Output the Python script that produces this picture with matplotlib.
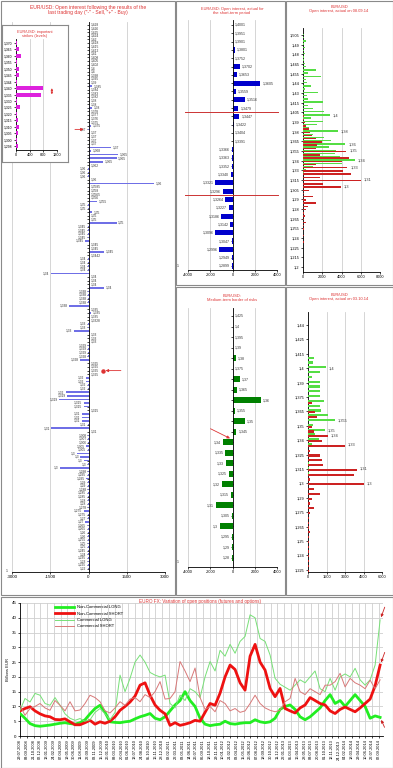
import numpy as np
import pandas as pd
import matplotlib
matplotlib.use('Agg')
import matplotlib.pyplot as plt
from matplotlib.patches import Rectangle

plt.rcParams['font.family'] = ['Liberation Sans', 'DejaVu Sans']
plt.rcParams['axes.linewidth'] = 0.6
plt.rcParams['xtick.major.width'] = 0.5
plt.rcParams['ytick.major.width'] = 0.5
plt.rcParams['xtick.major.size'] = 1.5
plt.rcParams['ytick.major.size'] = 1.5
plt.rcParams['xtick.major.pad'] = 1
plt.rcParams['ytick.major.pad'] = 1

# ---------------- data ----------------
# main panel: open interest after the last trading day, one row per strike/expiry
main_strikes = [
    "1,428", "1,426", "1,425", "1,424", "1,42", "1,418", "1,415", "1,412", "1,41", "1,408",
    "1,405", "1,402", "1,4", "1,4", "1,398", "1,395", "1,39", "1,385", "1,384", "1,383",
    "1,382", "1,38", "1,38", "1,38", "1,378", "1,377", "1,376", "1,375", "1,375", "1,37",
    "1,37", "1,37", "1,37", "1,37", "1,37", "1,368", "1,365", "1,365", "1,365", "1,362",
    "1,36", "1,36", "1,36", "1,36", "1,36", "1,3585", "1,358", "1,3565", "1,356", "1,355",
    "1,35", "1,35", "1,35", "1,35", "1,35", "1,35", "1,345", "1,345", "1,345", "1,345",
    "1,345", "1,345", "1,345", "1,345", "1,3442", "1,34", "1,34", "1,34", "1,34", "1,34",
    "1,34", "1,34", "1,34", "1,34", "1,338", "1,338", "1,338", "1,338", "1,338", "1,335",
    "1,335", "1,335", "1,3328", "1,33", "1,33", "1,33", "1,33", "1,33", "1,33", "1,329",
    "1,329", "1,329", "1,328", "1,328", "1,325", "1,325", "1,325", "1,325", "1,32", "1,32",
    "1,32", "1,32", "1,32", "1,319", "1,319", "1,315", "1,315", "1,315", "1,31", "1,31",
    "1,31", "1,31", "1,31", "1,31", "1,308", "1,307", "1,306", "1,305", "1,305", "1,3",
    "1,3", "1,3", "1,3", "1,3", "1,298", "1,295", "1,295", "1,29", "1,29", "1,288",
    "1,285", "1,285", "1,28", "1,28", "1,278", "1,275", "1,275", "1,27", "1,27", "1,265",
    "1,265", "1,26", "1,26", "1,255", "1,25", "1,25", "1,245", "1,24", "1,235", "1,23",
    "1,225", "1,22",
]
main_oi = [
    20, 20, 20, 20, 20, 20, 20, 20, 20, 20,
    20, 20, 20, 20, 20, 20, 20, 130, 20, 20,
    20, 20, 20, 130, 20, 20, 20, 20, 100, -30,
    20, 20, 20, 20, 900, 100, 1160, 1100, 580, 20,
    -30, -30, -30, 20, 2580, 20, 20, 20, 20, 320,
    -30, -30, 150, 20, 20, 1100, -30, -30, -30, -30,
    -130, 20, 20, 600, 20, -30, -30, -30, -30, -1480,
    20, 20, 20, 600, -30, -30, -30, -30, -770, 20,
    100, 20, 20, -30, -30, -580, 20, 20, 20, -30,
    -30, -30, -30, -320, 20, 20, 20, 20, -100, -100,
    -30, -30, -900, -840, -1160, -190, -190, 20, -260, -260,
    -260, -30, -1460, 20, -30, -30, -30, -100, -30, -450,
    -320, -190, -30, -1120, -30, -30, -100, -30, -30, -30,
    -30, -30, -30, -30, -30, -190, -30, -30, -130, -30,
    -30, -30, -30, -30, -30, -30, -30, -30, -30, -30,
    -30, -30,
]
main_arrow_rows = [29, 96]

# inset: important strikes
key_strikes = ["1,370", "1,365", "1,360", "1,355", "1,350", "1,345", "1,344", "1,340", "1,335",
               "1,330", "1,325", "1,320", "1,315", "1,310", "1,305", "1,300", "1,298"]
key_oi = [20, 90, 140, 30, 100, 100, 20, 780, 720, 20, 120, 40, 70, 100, 70, 20, 70]

# short-term period
short_strikes = ["1,4001", "1,3951", "1,3901", "1,3801", "1,3752", "1,3702", "1,3653", "1,3605",
                 "1,3559", "1,3516", "1,3479", "1,3447", "1,3422", "1,3404", "1,3391", "1,3366",
                 "1,3363", "1,3352", "1,3340", "1,3321", "1,3296", "1,3264", "1,3227", "1,3186",
                 "1,3142", "1,3096", "1,3047", "1,2996", "1,2949", "1,2899"]
short_oi = [60, 40, 40, 180, 60, 680, 380, 2500, 300, 1120, 530, 620, 150, 40, 30,
            -30, -30, -30, -150, -1530, -850, -650, -350, -1000, -200, -1530, -60, -1180, -50, -50]
short_border_after = ["1,3479", "1,3296"]

# medium-term border of risks
mid_strikes = ["1,425", "1,4", "1,395", "1,39", "1,38", "1,375", "1,37", "1,365", "1,36", "1,355",
               "1,35", "1,345", "1,34", "1,335", "1,33", "1,325", "1,32", "1,315", "1,31", "1,305",
               "1,3", "1,295", "1,29", "1,28"]
mid_oi = [30, 30, 30, 30, 290, 30, 680, 380, 2530, 240, 1120, 350, -850, -650, -590, -350,
          -940, -150, -1470, -30, -1150, -30, -30, -30]
mid_arrow_row = 12

# open interest on 08.09.14 (calls green / puts red)
sep_ticks = ["1,505", "1,49", "1,48", "1,465", "1,455", "1,44", "1,43", "1,415", "1,405", "1,39",
             "1,38", "1,365", "1,355", "1,34", "1,33", "1,315", "1,305", "1,29", "1,28", "1,265",
             "1,255", "1,24", "1,225", "1,215", "1,2"]
sep_calls = [150, 100, 300, 100, 200, 100, 200, 100, 150, 200,
             300, 1400, 500, 1900, 300, 400, 800, 200, 1600, 400,
             500, 2100, 500, 1000, 2200, 2800, 800, 2100, 1500, 600,
             3600, 1000, 2200, 2900, 4400, 2700, 3400, 3300, 3800, 5400,
             4000, 1000, 300, 100, 0, 0, 0, 0, 0, 0,
             0, 0, 0, 0, 0, 0, 0, 0, 0, 0,
             0, 0, 0, 0, 0, 0, 0, 0, 0, 0,
             0, 0, 0]
sep_puts = [0, 0, 0, 0, 0, 0, 0, 0, 0, 0,
            0, 0, 0, 0, 0, 0, 0, 0, 0, 0,
            0, 0, 0, 0, 0, 100, 100, 200, 300, 600,
            700, 900, 1300, 2000, 1500, 1400, 4500, 1800, 4800, 4000,
            1400, 4600, 4200, 5000, 1800, 6000, 2100, 3900, 600, 100,
            1000, 300, 1300, 500, 300, 100, 200, 100, 300, 100,
            100, 50, 100, 50, 80, 50, 50, 50, 50, 50,
            50, 50, 50]
sep_note_rows = [25, 30, 34, 36, 39, 41, 45, 47]
sep_note_text = ["1,4", "1,38", "1,36", "1,35", "1,34", "1,33", "1,31", "1,3"]

# open interest on 03.10.14
oct_ticks = ["1,44", "1,425", "1,415", "1,4", "1,39", "1,375", "1,365", "1,35", "1,34", "1,325",
             "1,315", "1,3", "1,29", "1,275", "1,265", "1,25", "1,24", "1,225"]
oct_calls = [0, 0, 0, 0, 0, 0, 0, 470, 420, 1420,
             950, 300, 1000, 1000, 1000, 1000, 1270, 1000, 1080, 1600,
             2200, 400, 1350, 600, 860, 300, 0, 0, 0, 50,
             100, 100, 0, 0, 0, 0, 0, 0, 0, 0,
             0, 0, 0, 0, 0, 0, 0, 0, 0, 0,
             0, 0]
oct_puts = [0, 0, 0, 0, 0, 0, 0, 0, 0, 0,
            0, 0, 0, 0, 0, 0, 300, 0, 600, 700,
            0, 300, 460, 1600, 1100, 2970, 200, 1000, 1130, 1200,
            3970, 3700, 200, 4540, 460, 1000, 300, 200, 460, 200,
            100, 100, 100, 200, 50, 50, 50, 50, 50, 50,
            50, 50]
oct_note_rows = [9, 20, 22, 23, 25, 30, 33]
oct_note_text = ["1,4", "1,355", "1,35", "1,34", "1,33", "1,31", "1,3"]

# EURO FX positions, billions EUR (roughly monthly readings, Jul 2008 - Sep 2014)
nc_long = [7.6, 6.0, 4.2, 3.5, 3.3, 3.5, 3.7, 4.0, 4.3, 4.5,
           4.2, 4.0, 4.5, 5.5, 7.5, 9.3, 10.4, 8.0, 4.8, 4.6,
           4.5, 4.8, 5.0, 5.8, 6.5, 7.0, 7.6, 6.0, 5.5, 6.5,
           8.5, 10.5, 12.0, 15.0, 12.0, 10.0, 6.0, 4.0, 3.5, 3.8,
           4.0, 5.0, 4.2, 4.0, 4.3, 4.5, 4.5, 5.5, 4.8, 4.5,
           4.8, 6.0, 9.0, 10.0, 10.5, 9.0, 6.5, 5.5, 6.5, 8.0,
           9.5, 12.0, 14.0, 11.0, 12.0, 10.0, 12.0, 14.0, 12.0, 10.0,
           6.0, 6.8, 6.3]
nc_short = [8.5, 9.3, 9.9, 8.5, 7.5, 6.8, 6.5, 5.6, 5.5, 5.8,
            4.8, 3.8, 3.8, 4.5, 5.3, 4.0, 4.8, 4.3, 5.0, 6.5,
            8.7, 10.0, 11.5, 13.5, 17.2, 18.0, 13.8, 10.5, 8.7, 7.5,
            3.6, 4.5, 3.6, 4.0, 4.5, 5.3, 5.0, 8.0, 11.0, 10.4,
            14.5, 20.0, 24.0, 22.5, 18.0, 15.5, 27.0, 31.0, 25.0, 22.3,
            16.1, 13.3, 16.1, 9.3, 8.5, 7.8, 9.5, 10.5, 13.0, 12.0,
            11.0, 10.5, 8.5, 7.6, 9.0, 9.8, 9.0, 8.2, 9.5, 11.0,
            12.5, 17.0, 24.0]
c_long = [8.7, 12.7, 11.5, 14.4, 13.8, 11.0, 10.4, 13.0, 10.4, 7.5,
          6.0, 5.3, 5.9, 5.0, 5.5, 8.0, 9.3, 7.5, 5.5, 8.0,
          20.6, 15.0, 19.5, 25.0, 27.4, 25.0, 21.5, 20.6, 20.0, 20.6,
          11.0, 9.5, 13.8, 12.0, 16.0, 15.0, 13.0, 20.0, 25.2, 22.0,
          29.0, 27.0, 31.0, 28.0, 32.0, 33.7, 41.0, 40.0, 33.0, 32.0,
          27.4, 19.5, 17.5, 16.5, 15.5, 17.2, 19.0, 18.0, 20.0, 22.0,
          16.0, 15.0, 19.5, 15.5, 20.0, 21.0, 20.0, 22.9, 19.0, 17.2,
          19.0, 24.0, 39.3]
c_short = [10.4, 7.0, 9.3, 10.0, 11.0, 9.5, 8.7, 12.0, 10.4, 8.5,
           11.6, 8.5, 8.8, 11.0, 13.8, 13.0, 11.6, 8.5, 7.8, 9.5,
           11.6, 10.4, 12.5, 13.0, 11.6, 14.0, 13.0, 15.0, 18.4, 12.5,
           12.7, 15.0, 25.2, 22.0, 18.4, 23.0, 13.0, 9.0, 10.0, 8.2,
           12.0, 11.0, 8.5, 9.3, 8.0, 8.5, 11.0, 13.8, 11.0, 9.5,
           8.7, 8.2, 8.7, 11.6, 12.7, 19.5, 15.0, 14.0, 16.0, 15.0,
           14.0, 17.2, 17.2, 18.4, 21.2, 16.6, 19.5, 18.0, 17.2, 16.0,
           18.9, 16.0, 19.0]
series_dates = pd.date_range("2008-07-29", "2014-09-09", periods=len(nc_long))
tick_dates = pd.date_range("2008-07-29", periods=54, freq="42D")

# ---------------- layout helpers ----------------
W, H = 393, 768
RED = '#dd3333'
GRID = '#cfcfcf'
TXT = '#333333'

fig = plt.figure(figsize=(W / 100, H / 100), dpi=100)


def px_axes(x0, y0, x1, y1):
    return fig.add_axes([x0 / W, 1 - y1 / H, (x1 - x0) / W, (y1 - y0) / H])


def row_limits(top_px, bottom_px, first_px, step_px):
    return ((bottom_px - first_px) / step_px, (top_px - first_px) / step_px)


def ftext(x, y, s, **kw):
    fig.text(x / W, 1 - y / H, s, **kw)


def frame(x0, y0, x1, y1):
    fig.patches.append(Rectangle((x0 / W, 1 - y1 / H), (x1 - x0) / W, (y1 - y0) / H,
                                 transform=fig.transFigure, fill=False,
                                 ec='#8a8a8a', lw=0.8))


def signed_bars(ax, labels, values, color, height, fs, pad):
    rows = np.arange(len(values))
    ax.barh(rows, values, height=height, color=color, zorder=3)
    for r, lab, v in zip(rows, labels, values):
        if v >= 0:
            ax.text(v + pad, r, lab, ha='left', va='center', fontsize=fs, color=TXT)
        else:
            ax.text(v - pad, r, lab, ha='right', va='center', fontsize=fs, color=TXT)
    ax.spines['left'].set_position(('data', 0))
    ax.spines['left'].set_zorder(4)
    ax.set_yticks(rows)
    ax.set_yticklabels([])
    ax.tick_params(axis='y', length=1.2, direction='out')
    for s in ('top', 'right'):
        ax.spines[s].set_visible(False)
    ax.grid(axis='x', color=GRID, lw=0.6)
    ax.set_axisbelow(True)


# ---------------- main panel ----------------
ax = px_axes(12, 22, 165, 572)
signed_bars(ax, main_strikes, main_oi, '#6f6fe6', 0.45, 2.3, 60)
ax.set_xlim(-3000, 3000)
ax.set_ylim(*row_limits(22, 572, 25, 3.6))
ax.set_xticks([-3000, -1500, 0, 1500, 3000])
ax.set_xticklabels(['-3000', '-1500', '0', '1500', '3000'], fontsize=3.2)
ax.annotate('', xy=(-80, main_arrow_rows[0]), xytext=(-640, main_arrow_rows[0]),
            arrowprops=dict(arrowstyle='-|>', color=RED, lw=0.6, mutation_scale=4))
ax.annotate('', xy=(560, main_arrow_rows[1]), xytext=(1380, main_arrow_rows[1]),
            arrowprops=dict(arrowstyle='-|>', color=RED, lw=0.6, mutation_scale=4))
ax.plot(560, main_arrow_rows[1], 'o', color=RED, ms=2.2, zorder=5)
ftext(7, 571, '1', fontsize=2.6, ha='center', va='center', color=TXT)
ftext(88, 10, 'EUR/USD: Open interest following the results of the\n'
      'last trading day ("-" - Sell, "+" - Buy)',
      fontsize=3.6, color=RED, ha='center', va='center', linespacing=1.2)

# inset with important strikes
fr = px_axes(2, 25, 68, 162)
fr.set_xticks([])
fr.set_yticks([])
for s in fr.spines.values():
    s.set_color('#8a8a8a')
    s.set_linewidth(0.8)
ins = px_axes(16, 39, 57, 150)
rows = np.arange(len(key_oi))
ins.barh(rows, key_oi, height=0.62, color='#dd22dd', zorder=3)
ins.set_xlim(0, 1200)
ins.set_ylim(*row_limits(39, 150, 43, 6.44))
ins.set_yticks(rows)
ins.set_yticklabels(key_strikes, fontsize=2.4)
ins.set_xticks([0, 400, 800, 1200])
ins.set_xticklabels(['0', '400', '800', '1200'], fontsize=2.8)
ins.grid(axis='x', color=GRID, lw=0.6)
ins.set_axisbelow(True)
for s in ('top', 'right'):
    ins.spines[s].set_visible(False)
ins.annotate('', xy=(1050, 6.6), xytext=(1050, 8.4),
             arrowprops=dict(arrowstyle='<|-|>', color=RED, lw=0.5, mutation_scale=3),
             annotation_clip=False)
ftext(35, 34, 'EUR/USD: important\nstrikes (levels)', fontsize=2.8, color=RED,
      ha='center', va='center', linespacing=1.2)

# ---------------- short-term period ----------------
ax2 = px_axes(188, 20, 277, 270)
signed_bars(ax2, short_strikes, short_oi, '#0000cc', 0.62, 2.6, 180)
ax2.set_xlim(-4000, 4000)
ax2.set_ylim(*row_limits(20, 270, 25, 8.31))
ax2.set_xticks([-4000, -2000, 0, 2000, 4000])
ax2.set_xticklabels(['-4000', '-2000', '0', '2000', '4000'], fontsize=2.8)
for lab in short_border_after:
    r = short_strikes.index(lab) + 0.5
    ax2.plot([-4300, 4100], [r, r], color='#cc3333', lw=0.7, clip_on=False, zorder=5)
ftext(178, 266, '1', fontsize=2.6, ha='center', va='center', color=TXT)
ftext(232, 11, 'EUR/USD: Open interest, actual for\nthe short-term period',
      fontsize=2.9, color=RED, ha='center', va='center', linespacing=1.2)

# ---------------- medium-term border ----------------
ax4 = px_axes(188, 308, 277, 567)
signed_bars(ax4, mid_strikes, mid_oi, '#008000', 0.58, 2.6, 180)
ax4.set_xlim(-4000, 4000)
ax4.set_ylim(*row_limits(308, 567, 316, 10.52))
ax4.set_xticks([-4000, -2000, 0, 2000, 4000])
ax4.set_xticklabels(['-4000', '-2000', '0', '2000', '4000'], fontsize=2.8)
ax4.annotate('', xy=(0, mid_arrow_row - 0.25), xytext=(-2200, mid_arrow_row - 1.4),
             arrowprops=dict(arrowstyle='-|>', color=RED, lw=0.6, mutation_scale=4))
ftext(178, 562, '1', fontsize=2.6, ha='center', va='center', color=TXT)
ftext(232, 298, 'EUR/USD:\nMedium-term border of risks',
      fontsize=2.9, color=RED, ha='center', va='center', linespacing=1.2)


# ---------------- calls / puts panels ----------------
def call_put_panel(axc, ticks, calls, puts, notes_rows, notes_text, xmax, xstep):
    rows = np.arange(len(calls))
    axc.barh(rows - 0.2, calls, height=0.45, color='#55dd44', zorder=3)
    axc.barh(rows + 0.2, puts, height=0.45, color='#cc2222', zorder=3)
    for r, t in zip(notes_rows, notes_text):
        axc.text(max(calls[r], puts[r]) + xmax * 0.04, r, t, fontsize=2.8,
                 color=TXT, va='center', ha='left')
    axc.set_xlim(0, xmax)
    axc.set_xticks(np.arange(0, xmax + 1, xstep))
    axc.set_xticklabels([str(v) for v in np.arange(0, xmax + 1, xstep)], fontsize=2.8)
    tick_rows = np.linspace(0, len(calls) - 1, len(ticks))
    axc.set_yticks(tick_rows)
    axc.set_yticklabels(ticks, fontsize=2.8)
    axc.grid(axis='x', color=GRID, lw=0.6)
    axc.set_axisbelow(True)
    for s in ('top', 'right'):
        axc.spines[s].set_visible(False)


ax3 = px_axes(303, 28, 380, 272)
call_put_panel(ax3, sep_ticks, sep_calls, sep_puts, sep_note_rows, sep_note_text, 8000, 2000)
ax3.set_ylim(*row_limits(28, 272, 35, 232 / 72))
ftext(339, 9, 'EUR/USD\nOpen interest, actual on 08.09.14',
      fontsize=2.9, color=RED, ha='center', va='center', linespacing=1.2)

ax5 = px_axes(308, 312, 382, 572)
call_put_panel(ax5, oct_ticks, oct_calls, oct_puts, oct_note_rows, oct_note_text, 6000, 1500)
ax5.set_ylim(*row_limits(312, 572, 325, 4.8))
ftext(339, 297, 'EUR/USD\nOpen interest, actual on 03.10.14',
      fontsize=2.9, color=RED, ha='center', va='center', linespacing=1.2)

# ---------------- EURO FX positions ----------------
ax6 = px_axes(20, 603, 383, 736)
ax6.plot(series_dates, nc_long, color='#22ee22', lw=2.0, label='Non-Commercial LONG', zorder=3)
ax6.plot(series_dates, nc_short, color='#ee1111', lw=2.0, label='Non-Commercial SHORT', zorder=3)
ax6.plot(series_dates, c_long, color='#77e077', lw=0.7, label='Commercial LONG', zorder=4)
ax6.plot(series_dates, c_short, color='#d87878', lw=0.7, label='Commercial SHORT', zorder=4)
span = series_dates[-1] - series_dates[0]
ax6.set_xlim(series_dates[0], series_dates[-1] + span * 0.008)
ax6.set_ylim(0, 45)
ax6.set_yticks(np.arange(0, 46, 5))
ax6.set_yticklabels([str(v) for v in range(0, 46, 5)], fontsize=3.2)
ax6.set_xticks(tick_dates)
ax6.set_xticklabels([d.strftime('%d.%m.%Y') for d in tick_dates], rotation=90, fontsize=2.9)
ax6.tick_params(axis='x', length=1.5, pad=1)
ax6.grid(True, color=GRID, lw=0.6)
ax6.set_axisbelow(True)
for s in ('top', 'right'):
    ax6.spines[s].set_visible(False)
ax6.set_ylabel('Billions EUR', fontsize=3, labelpad=1)
ax6.legend(loc='upper left', bbox_to_anchor=(0.09, 1.0), frameon=False, fontsize=3,
           handlelength=4.5, labelspacing=0.55, borderaxespad=0.2)
last = series_dates[-1]
for vals, off in ((c_long, (4, 11)), (nc_short, (4, 11)), (nc_long, (4, -9))):
    ax6.annotate('', xy=(last, vals[-1]), xytext=off, textcoords='offset points',
                 arrowprops=dict(arrowstyle='-|>', color='#cc2222', lw=0.6, mutation_scale=4),
                 annotation_clip=False)
ftext(200, 601, 'EURO FX: Variation of open positions (futures and options)',
      fontsize=3.3, color=RED, ha='center', va='center')

# panel borders
frame(0.5, 0.5, 175, 595)
frame(176, 0.5, 285, 285)
frame(286, 0.5, 392.5, 285)
frame(176, 287, 285, 595)
frame(286, 287, 392.5, 595)
frame(0.5, 597, 392.5, 767.5)

fig.savefig('out.png', dpi=100)
